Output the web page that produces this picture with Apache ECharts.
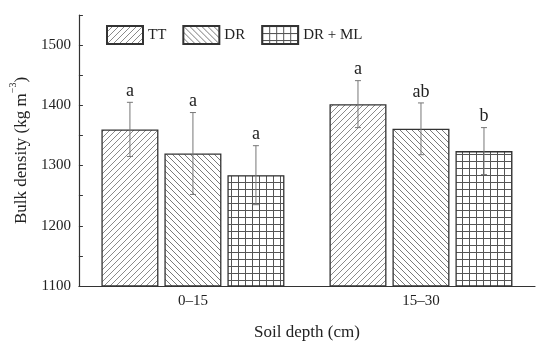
<!DOCTYPE html>
<html>
<head>
<meta charset="utf-8">
<script src="https://cdn.jsdelivr.net/npm/echarts@6/dist/echarts.min.js"></script>
<style>html,body{margin:0;padding:0;background:#fff}#c{width:550px;height:346px}</style>
</head>
<body>
<div id="c"></div>
<script>
const categories = ['0–15', '15–30'];
const seriesNames = ['TT', 'DR', 'DR + ML'];
const ttMean = [1360, 1402];
const drMean = [1320, 1361];
const drmlMean = [1284, 1324];
const ttErr = [45, 39];
const drErr = [68, 43];
const drmlErr = [49, 39];
const ttLetters = ['a', 'a'];
const drLetters = ['a', 'ab'];
const drmlLetters = ['a', 'b'];
const yTicks = [1100, 1200, 1300, 1400, 1500];

const FONT = '"Liberation Serif", "Times New Roman", serif';

function makePattern(kind) {
  const s = kind === 'grid' ? 7 : 6;
  const c = document.createElement('canvas');
  c.width = s; c.height = s;
  const g = c.getContext('2d');
  g.fillStyle = '#fff';
  g.fillRect(0, 0, s, s);
  g.lineWidth = 1;
  if (kind === 'fwd') {
    g.strokeStyle = '#8a8a8a';
    g.beginPath();
    g.moveTo(-1, s + 1); g.lineTo(s + 1, -1);
    g.moveTo(-1, 1); g.lineTo(1, -1);
    g.moveTo(s - 1, s + 1); g.lineTo(s + 1, s - 1);
    g.stroke();
  } else if (kind === 'back') {
    g.strokeStyle = '#7a7a7a';
    g.beginPath();
    g.moveTo(-1, -1); g.lineTo(s + 1, s + 1);
    g.moveTo(s - 1, -1); g.lineTo(s + 1, 1);
    g.moveTo(-1, s - 1); g.lineTo(1, s + 1);
    g.stroke();
  } else {
    g.strokeStyle = '#555';
    g.beginPath();
    g.moveTo(0.5, 0); g.lineTo(0.5, s);
    g.moveTo(0, 0.5); g.lineTo(s, 0.5);
    g.stroke();
  }
  return { image: c, repeat: 'repeat' };
}

const patterns = [makePattern('fwd'), makePattern('back'), makePattern('grid')];
const means = [ttMean, drMean, drmlMean];
const errs = [ttErr, drErr, drmlErr];
const letters = [ttLetters, drLetters, drmlLetters];

const BAR_W = 57;
const BAR_GAP = 6;

const series = [];
seriesNames.forEach((name, i) => {
  series.push({
    name: name,
    type: 'bar',
    barWidth: BAR_W,
    barGap: (BAR_GAP / BAR_W * 100) + '%',
    data: means[i],
    itemStyle: { color: patterns[i], borderColor: '#333', borderWidth: 1.3 },
    emphasis: { disabled: true },
    z: 2
  });
});
seriesNames.forEach((name, i) => {
  series.push({
    type: 'custom',
    z: 3,
    silent: true,
    data: categories.map((c, k) => [k, means[i][k], errs[i][k]]),
    renderItem: function (params, api) {
      const x = api.value(0), m = api.value(1), e = api.value(2);
      const top = api.coord([x, m + e]);
      const bot = api.coord([x, m - e]);
      const cx = top[0] + (i - 1) * (BAR_W + BAR_GAP);
      const st = { stroke: '#777', lineWidth: 1 };
      return {
        type: 'group',
        children: [
          { type: 'line', shape: { x1: cx, y1: top[1], x2: cx, y2: bot[1] }, style: st },
          { type: 'line', shape: { x1: cx - 3, y1: top[1], x2: cx + 3, y2: top[1] }, style: st },
          { type: 'line', shape: { x1: cx - 3, y1: bot[1], x2: cx + 3, y2: bot[1] }, style: st },
          { type: 'text', x: cx, y: top[1] - 2, style: {
              text: letters[i][params.dataIndex], align: 'center', verticalAlign: 'bottom',
              fontSize: 18, fontFamily: FONT, fill: '#222' } }
        ]
      };
    }
  });
});

const chart = echarts.init(document.getElementById('c'), null, { renderer: 'canvas' });
chart.setOption({
  animation: false,
  backgroundColor: '#fff',
  grid: { left: 78, right: 15, top: 15, bottom: 58 },
  legend: {
    data: seriesNames.map(n => ({ name: n, icon: 'rect' })),
    left: 106, top: 25, padding: 0,
    itemWidth: 36, itemHeight: 18, itemGap: 16,
    textStyle: { fontFamily: FONT, fontSize: 15, color: '#222' },
    selectedMode: false
  },
  xAxis: {
    type: 'category',
    data: categories,
    boundaryGap: true,
    name: 'Soil depth (cm)',
    nameLocation: 'middle',
    nameGap: 38,
    nameTextStyle: { fontFamily: FONT, fontSize: 17, color: '#222' },
    axisLine: { lineStyle: { color: '#333', width: 1.2 } },
    axisTick: { inside: true, length: 4, lineStyle: { color: '#333' } },
    axisLabel: { fontFamily: FONT, fontSize: 15, color: '#222', margin: 8 }
  },
  yAxis: {
    type: 'value',
    min: 1100, max: 1550, interval: 50,
    name: '{a|Bulk density (kg m}{b|−3}{a|)}',
    nameLocation: 'middle',
    nameGap: 48,
    nameTextStyle: {
      rich: {
        a: { fontFamily: FONT, fontSize: 17, color: '#222', lineHeight: 22, verticalAlign: 'bottom' },
        b: { fontFamily: FONT, fontSize: 10, color: '#222', lineHeight: 22, verticalAlign: 'top' }
      }
    },
    splitLine: { show: false },
    axisLine: { show: true, lineStyle: { color: '#333', width: 1.2 } },
    axisTick: { show: true, inside: true, length: 4, lineStyle: { color: '#333' } },
    axisLabel: {
      fontFamily: FONT, fontSize: 15, color: '#222', margin: 8,
      formatter: v => (yTicks.indexOf(v) >= 0 ? String(v) : '')
    }
  },
  series: series
});
</script>
</body>
</html>
